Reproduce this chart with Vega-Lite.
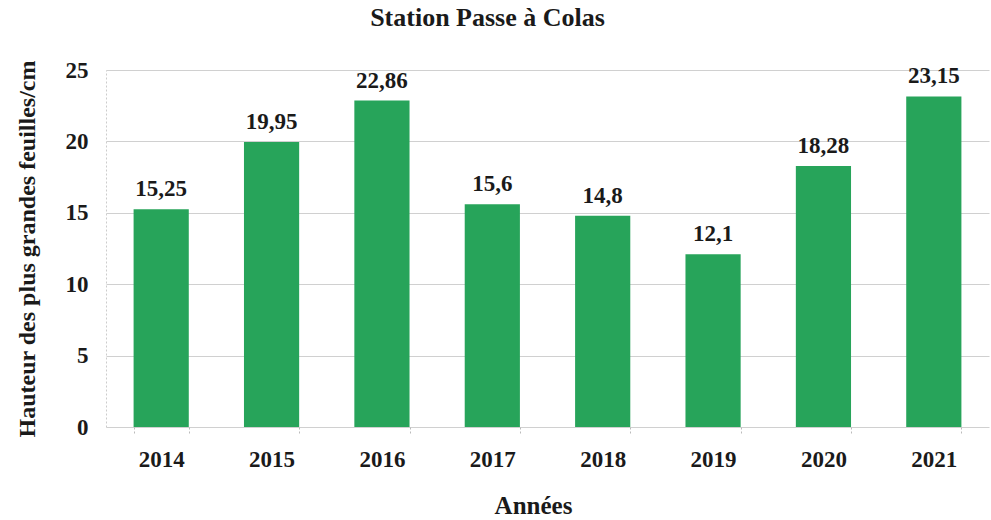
{
  "$schema": "https://vega.github.io/schema/vega-lite/v6.json",
  "width": 883,
  "height": 357,
  "autosize": "none",
  "padding": {"left": 106, "top": 70, "right": 2, "bottom": 93},
  "background": "white",
  "config": {
    "locale": {"number": {"decimal": ",", "thousands": " ", "grouping": [3], "currency": ["", " €"]}},
    "font": "Liberation Serif",
    "view": {"stroke": null}
  },
  "title": {
    "text": "Station Passe à Colas",
    "font": "Liberation Serif",
    "fontSize": 26,
    "fontWeight": "bold",
    "color": "#1a1a1a",
    "anchor": "middle",
    "dx": -60,
    "offset": 28
  },
  "data": {
    "values": [
      {"annee": "2014", "hauteur": 15.25},
      {"annee": "2015", "hauteur": 19.95},
      {"annee": "2016", "hauteur": 22.86},
      {"annee": "2017", "hauteur": 15.6},
      {"annee": "2018", "hauteur": 14.8},
      {"annee": "2019", "hauteur": 12.1},
      {"annee": "2020", "hauteur": 18.28},
      {"annee": "2021", "hauteur": 23.15}
    ]
  },
  "encoding": {
    "x": {
      "field": "annee",
      "type": "nominal",
      "title": "Années",
      "scale": {"paddingInner": 0.5, "paddingOuter": 0.25},
      "axis": {
        "labelAngle": 0,
        "labelFont": "Liberation Serif",
        "labelFontSize": 23,
        "labelFontWeight": "bold",
        "labelColor": "#1a1a1a",
        "labelPadding": 13,
        "titleFont": "Liberation Serif",
        "titleFontSize": 25,
        "titleFontWeight": "bold",
        "titleColor": "#1a1a1a",
        "titlePadding": 22,
        "titleX": 427,
        "domain": false,
        "ticks": true,
        "tickBand": "extent",
        "tickSize": 8,
        "tickColor": "#bbbbbb",
        "tickDash": [2, 2]
      }
    },
    "y": {
      "field": "hauteur",
      "type": "quantitative",
      "title": "Hauteur des plus grandes feuilles/cm",
      "scale": {"domain": [0, 25]},
      "axis": {
        "values": [0, 5, 10, 15, 20, 25],
        "labelFont": "Liberation Serif",
        "labelFontSize": 23,
        "labelFontWeight": "bold",
        "labelColor": "#1a1a1a",
        "labelPadding": 18,
        "titleFont": "Liberation Serif",
        "titleFontSize": 24,
        "titleFontWeight": "bold",
        "titleColor": "#1a1a1a",
        "titlePadding": 26,
        "domain": true,
        "domainColor": "#cccccc",
        "domainDash": [2, 2],
        "ticks": false,
        "grid": true,
        "gridColor": "#d0d0d0",
        "gridWidth": 1
      }
    }
  },
  "layer": [
    {
      "mark": {"type": "bar", "color": "#27a45a"}
    },
    {
      "mark": {"type": "text", "baseline": "bottom", "dy": -8, "font": "Liberation Serif", "fontSize": 23, "fontWeight": "bold", "color": "#1a1a1a"},
      "encoding": {
        "text": {"field": "hauteur", "type": "quantitative", "format": ".2~f"}
      }
    }
  ]
}
